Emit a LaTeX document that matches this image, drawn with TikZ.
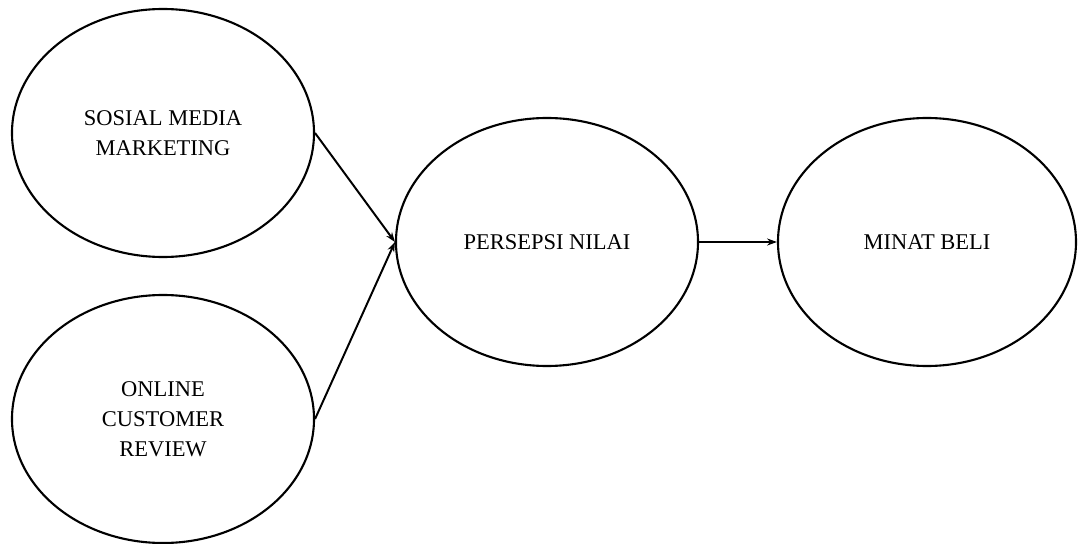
\documentclass[tikz,border=0pt]{standalone}
\usepackage{fontspec}
\setmainfont{Liberation Serif}
\usepackage{tikz}
\usetikzlibrary{shapes.geometric,arrows.meta}
\tikzstyle{var} = [draw=black, line width=1.5pt, ellipse, inner sep=0pt, minimum width=7.55cm, minimum height=6.2cm, align=center, font={\fontsize{16}{21.3}\selectfont}]
\tikzstyle{path} = [line width=1.4pt, -{Stealth[length=7pt,width=5pt]}]

\begin{document}
\begin{tikzpicture}
        \useasboundingbox (0,0) rectangle (26.95,-13.6);
        \node[var](sosial) at (4.075,-3.325){SOSIAL MEDIA\\MARKETING};
        \node[var](online) at (4.075,-10.475){ONLINE\\CUSTOMER\\REVIEW};
        \node[var](persepsi) at (13.675,-6.05){PERSEPSI NILAI};
        \node[var,minimum width=7.45cm](minat) at (23.175,-6.05){MINAT BELI};
        \draw[path](sosial.east)--(persepsi.west);
        \draw[path](online.east)--(persepsi.west);
        \draw[path](persepsi.east)--(minat.west);
      \end{tikzpicture}
\end{document}
